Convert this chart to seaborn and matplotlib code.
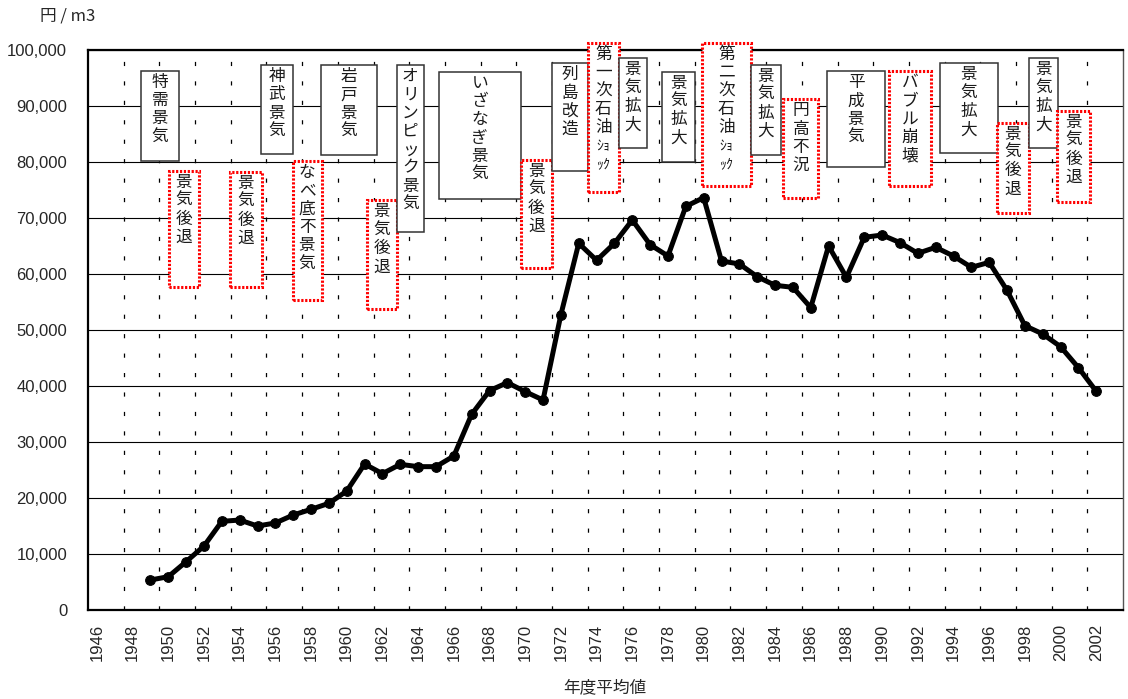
import seaborn as sns
import matplotlib.pyplot as plt
from matplotlib.patches import Rectangle
from matplotlib.ticker import FixedLocator, FuncFormatter

# 年度平均値 (円/m3)
years = list(range(1949, 2003))
prices = [5360, 5950, 8630, 11430, 15830, 16070, 15000, 15540, 16960, 17980,
          19050, 21250, 26070, 24350, 26010, 25600, 25600, 27500, 34940, 39170,
          40600, 38990, 37500, 52740, 65480, 62440, 65480, 69640, 65240, 63210,
          72080, 73630, 62320, 61790, 59520, 57980, 57620, 54000, 65000, 59400,
          66550, 66960, 65600, 63690, 64760, 63210, 61190, 62080, 57080, 50770,
          49290, 47020, 43270, 39050]
label_years = list(range(1946, 2003, 2))
y_ticks = list(range(0, 100001, 10000))

# economic period boxes
ann_labels = ["特需景気", "景気後退", "景気後退", "神武景気", "なべ底不景気", "岩戸景気",
              "景気後退", "オリンピック景気", "いざなぎ景気", "景気後退", "列島改造",
              "第一次石油ｼｮｯｸ", "景気拡大", "景気拡大", "第二次石油ｼｮｯｸ", "景気拡大",
              "円高不況", "平成景気", "バブル崩壊", "景気拡大", "景気後退", "景気拡大", "景気後退"]
ann_boom = [True, False, False, True, False, True, False, True, True, False, True,
            False, True, True, False, True, False, True, False, True, False, True, False]
ann_x = [(1948.47, 1950.61), (1950.02, 1951.74), (1953.46, 1955.25), (1955.19, 1957.0),
         (1956.97, 1958.59), (1958.54, 1961.71), (1961.13, 1962.79), (1962.79, 1964.34),
         (1965.15, 1969.76), (1969.74, 1971.51), (1971.51, 1973.52), (1973.52, 1975.24),
         (1975.24, 1976.84), (1977.67, 1979.54), (1979.89, 1982.65), (1982.65, 1984.31),
         (1984.45, 1986.43), (1986.90, 1990.18), (1990.39, 1992.75), (1993.23, 1996.49),
         (1996.41, 1998.25), (1998.21, 1999.87), (1999.81, 2001.67)]
ann_y = [(96300, 80230), (78390, 57680), (78210, 57680), (97320, 81380), (80230, 55360),
         (97320, 81250), (73160, 53700), (97320, 67550), (96130, 73390), (80360, 61130),
         (97630, 78390), (101300, 74590), (98520, 82450), (96130, 80050), (101300, 75770),
         (97320, 81250), (91200, 73520), (96200, 79050), (96250, 75770), (97630, 81550),
         (87020, 70950), (98520, 82450), (89110, 72800)]

sns.set_style("white")
plt.rcParams['font.family'] = ['Liberation Sans', 'Noto Sans CJK JP', 'DejaVu Sans']
plt.rcParams['lines.scale_dashes'] = False
cjk = ['Noto Sans CJK JP', 'DejaVu Sans']

fig = plt.figure(figsize=(11.28, 6.99), dpi=100)
ax = fig.add_axes([0.078, 0.1273, 0.9176, 0.8012])

sns.lineplot(x=years, y=prices, ax=ax, color='black', linewidth=3.6,
             marker='o', markersize=7, markeredgecolor='black', zorder=5)

ax.set_xlim(1945.5, 2003.5)
ax.set_ylim(0, 100000)
ax.xaxis.set_major_locator(FixedLocator(label_years))
ax.xaxis.set_minor_locator(FixedLocator([y + 1.5 for y in label_years[:-1]]))
ax.set_xticklabels([str(y) for y in label_years], rotation=90, fontsize=12)
ax.tick_params(axis='x', which='major', length=0, pad=10)
ax.tick_params(axis='x', which='minor', direction='in', length=6, width=0.8, color='black')
ax.yaxis.set_major_locator(FixedLocator(y_ticks))
ax.yaxis.set_major_formatter(FuncFormatter(lambda v, p: f"{int(v):,}"))
ax.tick_params(axis='y', length=0, pad=15, labelsize=12)

ax.set_axisbelow(True)
ax.yaxis.grid(True, color='black', linewidth=0.8)
ax.xaxis.grid(True, which='minor', color='black', linewidth=0.9, linestyle=(0, (3, 11)))
ax.xaxis.grid(False, which='major')
for side in ['left', 'bottom', 'top']:
    ax.spines[side].set_color('black')
    ax.spines[side].set_linewidth(1.6)
ax.spines['right'].set_color('#555555')
ax.spines['right'].set_linewidth(1.0)
ax.set_xlabel('')
ax.set_ylabel('')


def rows(s):
    if s.endswith('ｼｮｯｸ'):
        return list(s[:-4]) + ['ｼｮ', 'ｯｸ']
    return list(s)


for label, boom, (x0, x1), (yt, yb) in zip(ann_labels, ann_boom, ann_x, ann_y):
    if boom:
        rect = Rectangle((x0, yb), x1 - x0, yt - yb, facecolor='white',
                         edgecolor='#333333', linewidth=1.1, zorder=3, clip_on=False)
    else:
        rect = Rectangle((x0, yb), x1 - x0, yt - yb, facecolor='white',
                         edgecolor='red', linewidth=2.2, linestyle=(0, (1.6, 1.2)),
                         zorder=3, clip_on=False)
    ax.add_patch(rect)
    xc = (x0 + x1) / 2
    for i, ch in enumerate(rows(label)):
        small = len(ch) > 1
        ax.annotate(ch, xy=(xc, yt), xytext=(0, -(8.3 + i * 13.2)),
                    textcoords='offset points', ha='center', va='center',
                    fontsize=10 if small else 12, family=cjk, color='#1a1a1a',
                    zorder=4, annotation_clip=False)

fig.text(40 / 1128, 1 - 16 / 699, '円 / m3', fontsize=12, family=cjk,
         ha='left', va='center')
fig.text(605 / 1128, 1 - 688 / 699, '年度平均値', fontsize=12, family=cjk,
         ha='center', va='center')

fig.savefig('out.png', dpi=100)
